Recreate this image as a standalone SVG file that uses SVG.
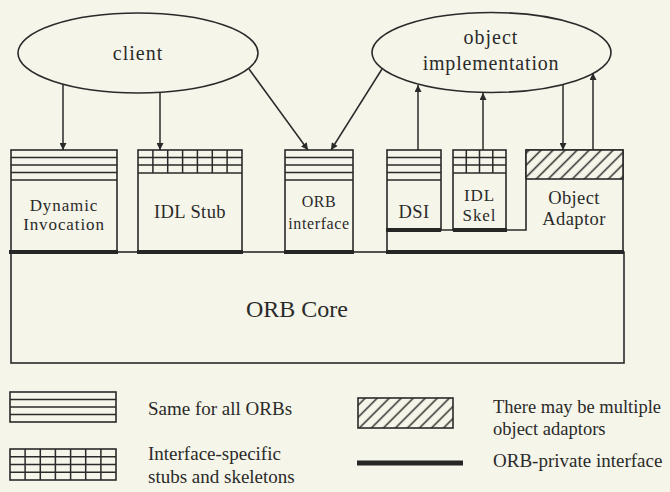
<svg xmlns="http://www.w3.org/2000/svg" width="670" height="492" viewBox="0 0 670 492">
<defs>
<style>
.bg{fill:#f5f5e9}
.box{fill:#f5f5e9;stroke:#2a2a2a;stroke-width:1.6}
.ln{stroke:#2a2a2a;stroke-width:1.5;fill:none}
.thick{stroke:#262626;stroke-width:4;fill:none}
.conn{stroke:#2a2a2a;stroke-width:1.5;fill:none;marker-end:url(#arr)}
text{font-family:"Liberation Serif","Times New Roman",serif;fill:#2a2a2a}
.lbl{font-size:18.5px;text-anchor:middle;letter-spacing:0.4px}
.lbl2{font-size:17px;text-anchor:middle;letter-spacing:0.9px}
.sm{font-size:16px;text-anchor:middle;letter-spacing:0.6px}
.big{font-size:24px;text-anchor:middle}
.ell{font-size:20px;text-anchor:middle;letter-spacing:1px}
.leg{font-size:19px}
</style>
<marker id="arr" viewBox="0 0 10 10" refX="10" refY="5" markerUnits="userSpaceOnUse" markerWidth="8" markerHeight="7" orient="auto">
<path d="M0,0 L10,5 L0,10 z" fill="#2a2a2a"/>
</marker>
<pattern id="hatch" patternUnits="userSpaceOnUse" width="8.5" height="8.5" patternTransform="rotate(45)">
<rect width="8.5" height="8.5" fill="#f5f5e9"/>
<line x1="4.25" y1="0" x2="4.25" y2="8.5" stroke="#2a2a2a" stroke-width="1.5"/>
</pattern>
</defs>
<rect class="bg" x="0" y="0" width="670" height="492"/>

<g id="client">
<ellipse class="box" cx="138" cy="53" rx="120" ry="40"/>
<text class="ell" x="138" y="60">client</text>
</g>

<g id="object-implementation">
<ellipse class="box" cx="491.5" cy="52.5" rx="119.5" ry="40"/>
<text class="ell" x="491" y="44">object</text>
<text class="ell" x="491" y="70" style="letter-spacing:0.8px">implementation</text>
</g>

<g id="orb-core">
<rect class="box" x="11" y="252" width="613" height="111"/>
<text class="big" x="297" y="317">ORB Core</text>
</g>

<g id="dynamic-invocation">
<rect class="box" x="11" y="150" width="106" height="101"/>
<path class="ln" d="M11,157.5H117M11,165H117M11,172.5H117M11,180H117"/>
<text class="lbl2" x="64" y="211">Dynamic</text>
<text class="lbl2" x="64" y="230">Invocation</text>
</g>

<g id="idl-stub">
<rect class="box" x="138" y="150" width="104" height="101"/>
<path class="ln" d="M138,157.5H242M138,165H242M138,173H242M152.9,150V173M167.7,150V173M182.6,150V173M197.4,150V173M212.3,150V173M227.1,150V173"/>
<text class="lbl" x="190" y="218">IDL Stub</text>
</g>

<g id="orb-interface">
<rect class="box" x="285" y="150" width="68" height="101"/>
<path class="ln" d="M285,157.5H353M285,165H353M285,172.5H353M285,180H353"/>
<text class="sm" x="319" y="207">ORB</text>
<text class="sm" x="319" y="229">interface</text>
</g>

<g id="object-adaptor">
<path class="box" d="M387,230H526V150H623V252H387Z"/>
<rect x="526" y="150" width="97" height="29" fill="url(#hatch)" stroke="#2a2a2a" stroke-width="1.6"/>
<text class="lbl" x="574" y="204">Object</text>
<text class="lbl" x="574" y="225">Adaptor</text>
</g>

<g id="dsi">
<rect class="box" x="387" y="150" width="54" height="80"/>
<path class="ln" d="M387,157.5H441M387,165H441M387,172.5H441M387,180H441"/>
<text class="lbl" x="414" y="218">DSI</text>
</g>

<g id="idl-skel">
<rect class="box" x="453" y="150" width="53" height="80"/>
<path class="ln" d="M453,157.5H506M453,165H506M453,173H506M466.3,150V173M479.5,150V173M492.8,150V173"/>
<text class="lbl2" x="479.5" y="201">IDL</text>
<text class="lbl2" x="479.5" y="221">Skel</text>
</g>

<g id="orb-private-lines">
<path class="thick" d="M9,252H118M137,252H243M284,252H354M386,252H624"/>
<path class="thick" d="M386,230H441M453,230H507"/>
</g>

<g id="connectors">
<line class="conn" x1="63" y1="85" x2="63" y2="150"/>
<line class="conn" x1="160" y1="93" x2="160" y2="150"/>
<line class="conn" x1="249" y1="69" x2="308" y2="150"/>
<line class="conn" x1="382" y1="69" x2="331" y2="150"/>
<line class="conn" x1="418" y1="150" x2="418" y2="85"/>
<line class="conn" x1="483" y1="150" x2="483" y2="93"/>
<line class="conn" x1="563" y1="85" x2="563" y2="150"/>
<line class="conn" x1="593" y1="150" x2="593" y2="73"/>
</g>

<g id="legend-same">
<rect class="box" x="10" y="392" width="106" height="30"/>
<path class="ln" d="M10,399.5H116M10,407H116M10,414.5H116"/>
<text class="leg" x="148" y="415">Same for all ORBs</text>
</g>

<g id="legend-interface">
<rect class="box" x="10" y="449" width="106" height="31"/>
<path class="ln" d="M10,456.75H116M10,464.5H116M10,472.25H116M25.1,449V480M40.3,449V480M55.4,449V480M70.6,449V480M85.7,449V480M100.9,449V480"/>
<text class="leg" x="148" y="460">Interface-specific</text>
<text class="leg" x="148" y="483">stubs and skeletons</text>
</g>

<g id="legend-adaptors">
<rect x="358" y="398" width="95" height="30" fill="url(#hatch)" stroke="#2a2a2a" stroke-width="1.6"/>
<text class="leg" x="493" y="413" style="font-size:18.5px">There may be multiple</text>
<text class="leg" x="493" y="435" style="font-size:18.5px">object adaptors</text>
</g>

<g id="legend-private">
<line x1="357" y1="463" x2="463" y2="463" stroke="#262626" stroke-width="5"/>
<text class="leg" x="493" y="467">ORB-private interface</text>
</g>
</svg>
